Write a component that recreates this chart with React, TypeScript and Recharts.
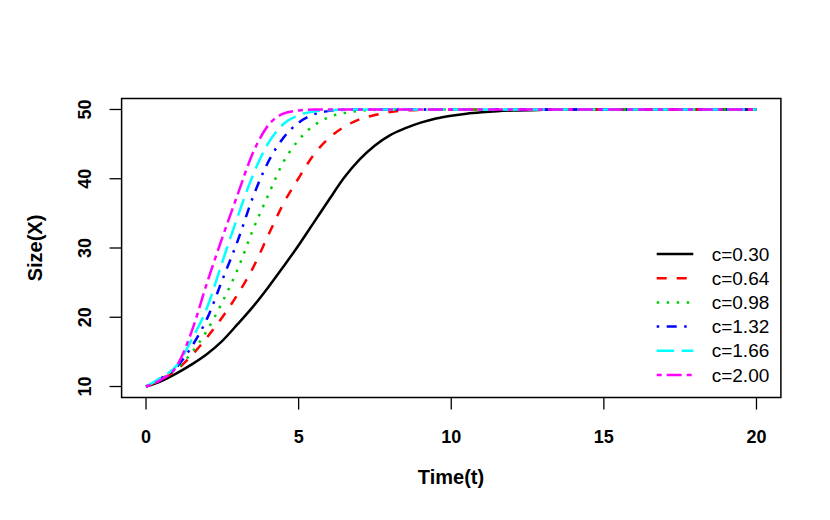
import { LineChart, Line, XAxis, YAxis, ReferenceArea, Legend, Label } from "recharts";

const FONT = "'Liberation Sans', Arial, Helvetica, sans-serif";

// time grid
const TIME = [0, 0.5, 1, 1.5, 2, 2.5, 3, 3.5, 4, 4.5, 5, 5.5, 6, 6.5, 7, 7.5, 8, 8.5, 9, 9.5, 10, 10.5, 11, 11.5, 12, 13, 14, 15, 16, 17, 18, 19, 20];

const C030 = [10, 10.8, 11.9, 13.2, 14.7, 16.6, 19.0, 21.5, 24.3, 27.3, 30.4, 33.7, 37.0, 40.2, 42.8, 44.8, 46.3, 47.3, 48.1, 48.7, 49.1, 49.4, 49.6, 49.75, 49.85, 49.95, 50, 50, 50, 50, 50, 50, 50];
const C064 = [10, 11.0, 12.4, 14.5, 17.1, 20.0, 23.3, 27.1, 31.8, 36.4, 40.1, 43.5, 45.9, 47.5, 48.6, 49.2, 49.65, 49.85, 49.93, 49.97, 50, 50, 50, 50, 50, 50, 50, 50, 50, 50, 50, 50, 50];
const C098 = [10, 11.1, 12.6, 14.9, 18.1, 22.2, 26.9, 32.6, 37.6, 42.4, 45.6, 47.7, 48.9, 49.5, 49.8, 49.95, 50, 50, 50, 50, 50, 50, 50, 50, 50, 50, 50, 50, 50, 50, 50, 50, 50];
const C132 = [10, 11.2, 12.8, 15.8, 19.8, 25.4, 31.0, 37.3, 42.4, 45.9, 48.1, 49.3, 49.8, 49.95, 50, 50, 50, 50, 50, 50, 50, 50, 50, 50, 50, 50, 50, 50, 50, 50, 50, 50, 50];
const C166 = [10, 11.3, 13.0, 16.8, 21.4, 28.0, 34.5, 40.5, 45.1, 47.9, 49.2, 49.7, 49.9, 50, 50, 50, 50, 50, 50, 50, 50, 50, 50, 50, 50, 50, 50, 50, 50, 50, 50, 50, 50];
const C200 = [10, 11.0, 12.9, 18.0, 25.0, 31.5, 37.7, 43.7, 47.7, 49.4, 49.85, 50, 50, 50, 50, 50, 50, 50, 50, 50, 50, 50, 50, 50, 50, 50, 50, 50, 50, 50, 50, 50, 50];

const X_TICKS = [0, 5, 10, 15, 20];
const Y_TICKS = [10, 20, 30, 40, 50];
const NAMES = ["c=0.30", "c=0.64", "c=0.98", "c=1.32", "c=1.66", "c=2.00"];
const KEYS = ["c030", "c064", "c098", "c132", "c166", "c200"];

// R palette + lty 1..6 at lwd 2
const STYLES = [
  { color: "#000000", dash: undefined },
  { color: "#FF0000", dash: "10 10" },
  { color: "#00CD00", dash: "2.5 7.5" },
  { color: "#0000FF", dash: "2.5 7.5 10 7.5" },
  { color: "#00FFFF", dash: "17.5 7.5" },
  { color: "#FF00FF", dash: "5 5 15 5" },
];

const data = TIME.map((t, i) => ({
  t,
  c030: C030[i],
  c064: C064[i],
  c098: C098[i],
  c132: C132[i],
  c166: C166[i],
  c200: C200[i],
}));

const XTick = ({ x, y, payload }: any) => (
  <text x={x} y={y + 25.5} textAnchor="middle" dominantBaseline="central" fontSize={18} fontWeight="bold" fontFamily={FONT} fill="#000">
    {payload.value}
  </text>
);

const YTick = ({ x, y, payload }: any) => (
  <text
    x={x}
    y={y}
    transform={`rotate(-90 ${x} ${y})`}
    textAnchor="middle"
    dominantBaseline="central"
    fontSize={18}
    fontWeight="bold"
    fontFamily={FONT}
    fill="#000"
  >
    {payload.value}
  </text>
);

function LegendBox() {
  return (
    <svg width={150} height={150}>
      {NAMES.map((name, i) => {
        const y = 14 + i * 24.2;
        return (
          <g key={name}>
            <line x1={16.7} x2={53.3} y1={y} y2={y} stroke={STYLES[i].color} strokeWidth={2.5} strokeDasharray={STYLES[i].dash} />
            <text x={71.7} y={y} dominantBaseline="central" fontSize={19} fontFamily={FONT} fill="#000">
              {name}
            </text>
          </g>
        );
      })}
    </svg>
  );
}

export default function App() {
  return (
    <div style={{ position: "absolute", left: 0, top: 0, width: 830, height: 520, background: "#fff" }}>
      <LineChart width={830} height={520} data={data} margin={{ top: 98.4, right: 49.1, bottom: 82.4, left: 61.6 }}>
        <XAxis
          type="number"
          dataKey="t"
          domain={[-0.8, 20.8]}
          ticks={X_TICKS}
          height={40}
          axisLine={false}
          tickSize={12}
          tickLine={{ stroke: "#000", strokeWidth: 1.3 }}
          tick={<XTick />}
          interval={0}
        >
          <Label
            content={() => (
              <text x={451} y={477} textAnchor="middle" dominantBaseline="central" fontSize={20} fontWeight="bold" fontFamily={FONT} fill="#000">
                Time(t)
              </text>
            )}
          />
        </XAxis>
        <YAxis
          type="number"
          domain={[8.4, 51.6]}
          ticks={Y_TICKS}
          width={60}
          axisLine={false}
          tickSize={12}
          tickMargin={24.6}
          tickLine={{ stroke: "#000", strokeWidth: 1.3 }}
          tick={<YTick />}
          interval={0}
        >
          <Label
            content={() => (
              <text
                x={35}
                y={248}
                transform="rotate(-90 35 248)"
                textAnchor="middle"
                dominantBaseline="central"
                fontSize={20}
                fontWeight="bold"
                fontFamily={FONT}
                fill="#000"
              >
                Size(X)
              </text>
            )}
          />
        </YAxis>
        <ReferenceArea x1={-0.8} x2={20.8} y1={8.4} y2={51.6} fill="none" stroke="#000" strokeWidth={1.5} ifOverflow="visible" />
        {KEYS.map((k, i) => (
          <Line
            key={k}
            type="monotone"
            dataKey={k}
            name={NAMES[i]}
            stroke={STYLES[i].color}
            strokeWidth={2.5}
            strokeDasharray={STYLES[i].dash}
            dot={false}
            activeDot={false}
            isAnimationActive={false}
          />
        ))}
        <Legend
          layout="vertical"
          align="center"
          verticalAlign="middle"
          content={<LegendBox />}
          wrapperStyle={{ left: 640, top: 240, width: 150, height: 150 }}
        />
      </LineChart>
    </div>
  );
}
